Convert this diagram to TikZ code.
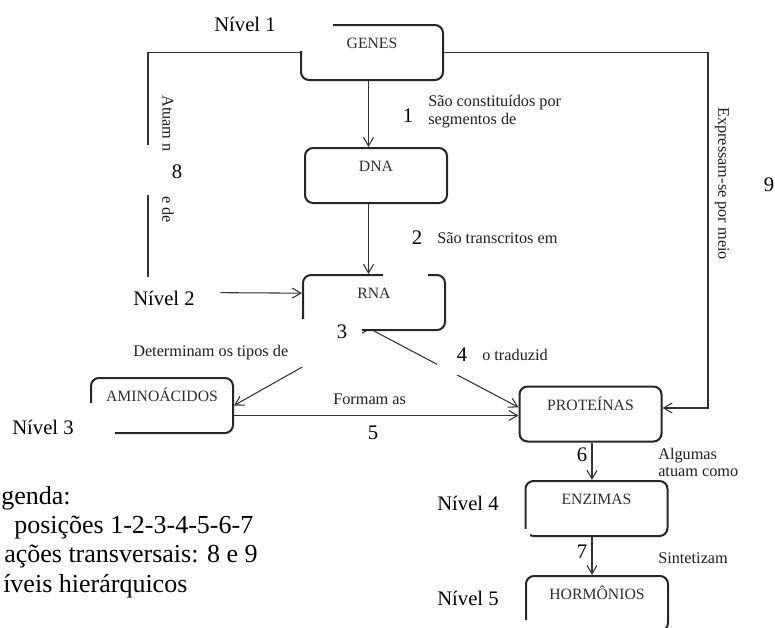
\documentclass[tikz,border=0pt]{standalone}
\usepackage{fontspec}
\setmainfont{Liberation Serif}
\usetikzlibrary{arrows.meta}

\newcommand{\fnivel}{\fontsize{15.5pt}{18pt}\selectfont}
\newcommand{\fcaixa}{\fontsize{11.8pt}{14pt}\selectfont}
\newcommand{\fnota}{\fontsize{12.2pt}{13pt}\selectfont}
\newcommand{\flegenda}{\fontsize{19.5pt}{22pt}\selectfont}

\begin{document}
\begin{tikzpicture}[x=0.75pt,y=-0.75pt,
		caixa/.style={draw=black!85,line width=1.5pt,rounded corners=6pt,
			minimum width=106.5pt,minimum height=41.25pt,
			text height=8pt,text depth=13.5pt,font=\fcaixa,text=black!82},
		seta/.style={draw=black!80,line width=0.8pt,-{Straight Barb[length=6.5pt,width=7.5pt]}},
		linha/.style={draw=black!80,line width=0.8pt},
		nivel/.style={font=\fnivel,inner sep=0pt},
		nota/.style={font=\fnota,text=black!88,inner sep=0pt,anchor=west,align=left},
		legenda/.style={font=\flegenda,inner sep=0pt,anchor=base west},
		remendo/.style={fill=white}]
		\useasboundingbox (0,0) rectangle (775,628);
		% caixas
		\node[caixa] (genes) at (372,52.5) {GENES};
		\node[caixa] (dna) at (376,175.5) {DNA};
		\node[caixa] (rna) at (374,302.5) {RNA};
		\node[caixa] (amino) at (162,405.5) {AMINOÁCIDOS};
		\node[caixa] (prot) at (590.5,414) {PROTEÍNAS};
		\node[caixa] (enz) at (596.5,508.5) {ENZIMAS};
		\node[caixa] (horm) at (597,603.5) {HORMÔNIOS};
		\coordinate (eixoa) at (368.5,0);
		\coordinate (eixob) at (592,0);
		\coordinate (dir) at (708,408);
		\coordinate (esq) at (148,277);
		% proposicoes
		\draw[seta] (genes.south -| eixoa) -- (dna.north -| eixoa);
		\draw[seta] (dna.south -| eixoa) -- (rna.north -| eixoa);
		\draw[seta] ([xshift=-6pt]rna.south) -- (amino.east);
		\draw[seta] (rna.south) -- ([yshift=5pt]prot.west);
		\draw[seta] ([yshift=-7.5pt]amino.east) -- ([yshift=-7.5pt]amino.east -| prot.west);
		\draw[seta] (prot.south -| eixob) -- (enz.north -| eixob);
		\draw[seta] (enz.south -| eixob) -- (horm.north -| eixob);
		% transversais
		\draw[seta] (genes.east) -| (dir) -- (dir -| prot.east);
		\draw[linha] (genes.west) -| (esq);
		\node[nivel] (n2) at (164,298) {Nível 2};
		\draw[seta] ([xshift=19pt,yshift=4pt]n2.east) -- ([yshift=7pt]rna.west);
		% remendos brancos
		\fill[remendo] (200,0) rectangle (333,51);
		\fill[remendo] (128,145) rectangle (200,195);
		\fill[remendo] (383,268) rectangle (428,283);
		\fill[remendo] (300,319) rectangle (362,367);
		\fill[remendo] (437,334) rectangle (480,375);
		\fill[remendo] (0,403) rectangle (115,450);
		\fill[remendo] (440,529) rectangle (530,541);
		\fill[remendo] (440,620) rectangle (530,628);
		% niveis e numeros
		\node[nivel] (n1) at (245,24) {Nível 1};
		\node[nivel] (n3) at (43,427) {Nível 3};
		\node[nivel] (n4) at (468,503) {Nível 4};
		\node[nivel] (n5) at (468,598) {Nível 5};
		\node[nivel] (p1) at (408,116) {1};
		\node[nivel] (p2) at (417,238) {2};
		\node[nivel] (p3) at (342,332) {3};
		\node[nivel] (p4) at (462,355) {4};
		\node[nivel] (p5) at (373,433) {5};
		\node[nivel] (p6) at (582,455) {6};
		\node[nivel] (p7) at (582,552) {7};
		\node[nivel] (t8) at (177,172) {8};
		\node[nivel] (t9) at (769,185) {9};
		% frases de ligacao
		\node[nota] (r1) at (428,111.5) {São constituídos por\\segmentos de};
		\node[nota] (r2) at (437,238) {São transcritos em};
		\node[nota] (r3) at (133,353) {Determinam os tipos de};
		\node[nota] (r4) at (482,355) {o traduzid};
		\node[nota] (r5) at (333,399) {Formam as};
		\node[nota] (r6) at (658,462.5) {Algumas\\atuam como};
		\node[nota] (r7) at (658,558) {Sintetizam};
		\node[nota,rotate=-90] (r8a) at (168,95) {Atuam n};
		\node[nota,rotate=-90] (r8b) at (168,196) {e de};
		\node[nota,rotate=-90] (r9) at (722,107) {Expressam-se por meio};
		% legenda
		\node[legenda] (l1) at (1,504) {genda:};
		\node[legenda] (l2) at (14,533) {posições 1-2-3-4-5-6-7};
		\node[legenda] (l3) at (4,562) {ações transversais: 8 e 9};
		\node[legenda] (l4) at (3,592) {íveis hierárquicos};
	\end{tikzpicture}
\end{document}
